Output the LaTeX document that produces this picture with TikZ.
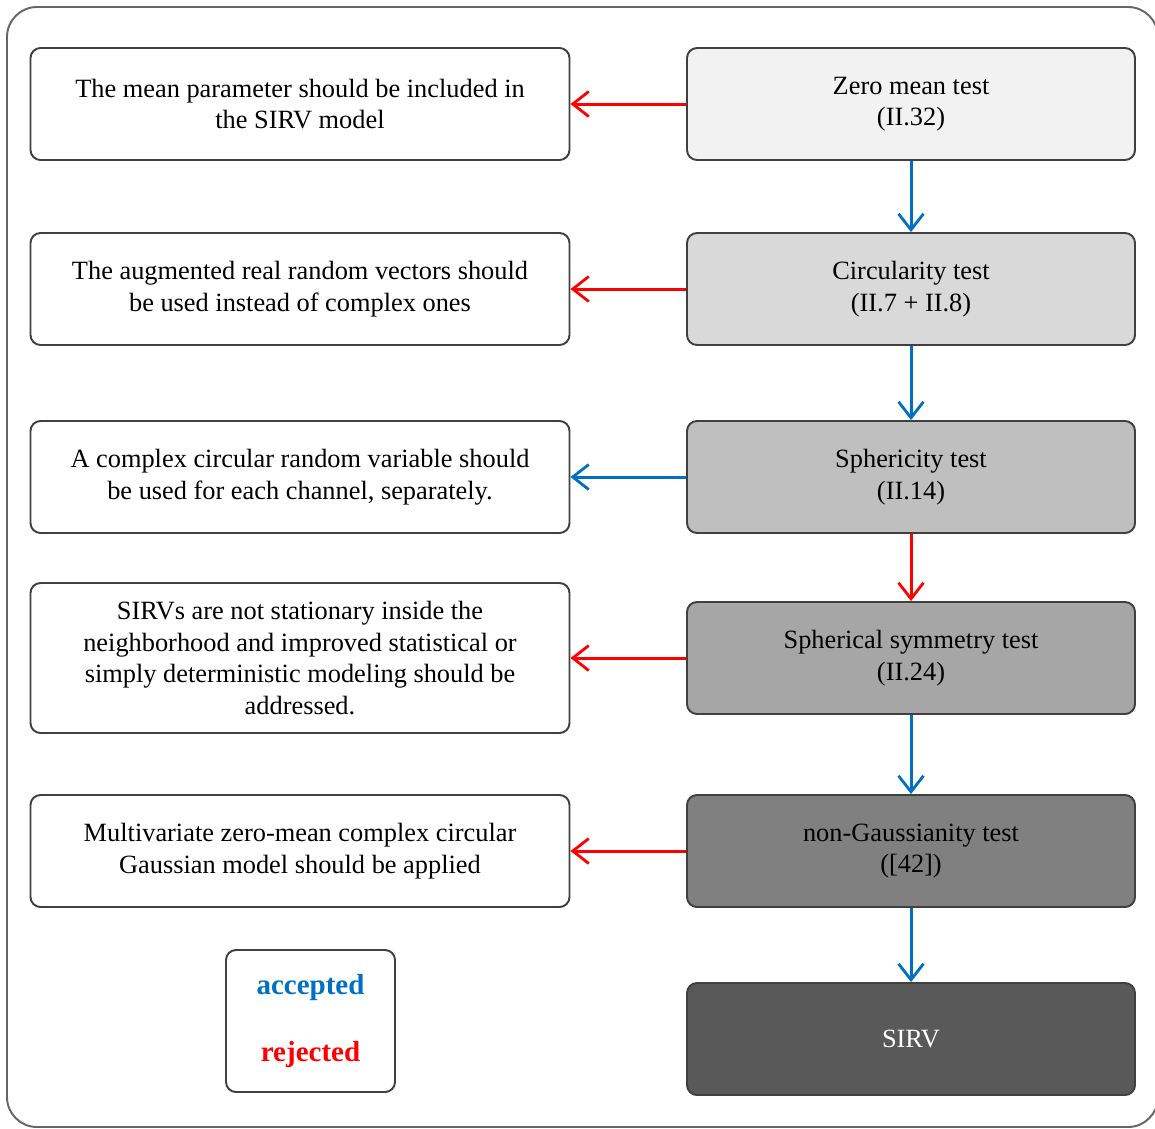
\documentclass[tikz,border=0pt]{standalone}
\usepackage{fontspec}
\setmainfont{Liberation Serif}
\usetikzlibrary{arrows.meta}

\definecolor{accblue}{RGB}{0,112,192}
\definecolor{edgegray}{RGB}{64,64,64}

\begin{document}
\begin{tikzpicture}
\tikzset{node distance=37mm,
    >={Straight Barb[length=3.2mm, width=5mm, line width=1.6pt]},
    testbox/.style={rectangle, draw=edgegray, line width=1.1pt, rounded corners=2mm,
        minimum width=89.6mm, minimum height=22.4mm, align=center, font=\fontsize{15}{18}\selectfont},
    resbox/.style={rectangle, draw=edgegray, line width=1.1pt, rounded corners=2mm, fill=white,
        minimum width=107.8mm, minimum height=22.4mm, align=center, font=\fontsize{15}{18}\selectfont},
    acc/.style={draw=accblue, line width=1.7pt},
    rej/.style={draw=red, line width=1.7pt}
}
  \useasboundingbox (0,0) rectangle (23.1,-22.56);
  \draw[draw=gray!80!black, line width=1.1pt, rounded corners=6mm] (0.14,-0.14) rectangle (23.16,-22.54);

  % tests
  \node[testbox, fill=black!5] at (18.22,-2.08) (zero) {Zero mean test\\(II.32)};
  \node[testbox, fill=black!15, below of=zero] (circ) {Circularity test\\(II.7 + II.8)};
  \node[testbox, fill=black!25, below of=circ, node distance=37.6mm] (spher) {Sphericity test\\(II.14)};
  \node[testbox, fill=black!35, below of=spher, node distance=36.2mm] (symm) {Spherical symmetry test\\(II.24)};
  \node[testbox, fill=black!50, below of=symm, node distance=38.6mm] (gauss) {non-Gaussianity test\\([42])};
  \node[testbox, fill=black!65, below of=gauss, node distance=37.6mm, text=white] (sirv) {SIRV};

  % outcomes
  \node[resbox, left of=zero, node distance=122.2mm] (mean) {The mean parameter should be included in\\the SIRV model};
  \node[resbox, left of=circ, node distance=122.2mm] (augm) {The augmented real random vectors should\\be used instead of complex ones};
  \node[resbox, left of=spher, node distance=122.2mm] (chan) {A complex circular random variable should\\be used for each channel, separately.};
  \node[resbox, left of=symm, node distance=122.2mm, minimum height=30mm] (stat) {SIRVs are not stationary inside the\\neighborhood and improved statistical or\\simply deterministic modeling should be\\addressed.};
  \node[resbox, left of=gauss, node distance=122.2mm] (multi) {Multivariate zero-mean complex circular\\Gaussian model should be applied};

  % legend
  \node[rectangle, draw=edgegray, line width=1.1pt, rounded corners=2mm, minimum width=33.8mm,
      minimum height=28.4mm, align=center, font=\fontsize{16.5}{19}\selectfont\bfseries] at (6.21,-20.42) (legend)
      {\textcolor{accblue}{accepted}\\[19pt]\textcolor{red}{rejected}};

  \draw[->, rej] (zero) -- (mean);
  \draw[->, rej] (circ) -- (augm);
  \draw[->, acc] (spher) -- (chan);
  \draw[->, rej] (symm) -- (stat);
  \draw[->, rej] (gauss) -- (multi);
  \draw[->, acc] (zero) -- (circ);
  \draw[->, acc] (circ) -- (spher);
  \draw[->, rej] (spher) -- (symm);
  \draw[->, acc] (symm) -- (gauss);
  \draw[->, acc] (gauss) -- (sirv);
\end{tikzpicture}
\end{document}
